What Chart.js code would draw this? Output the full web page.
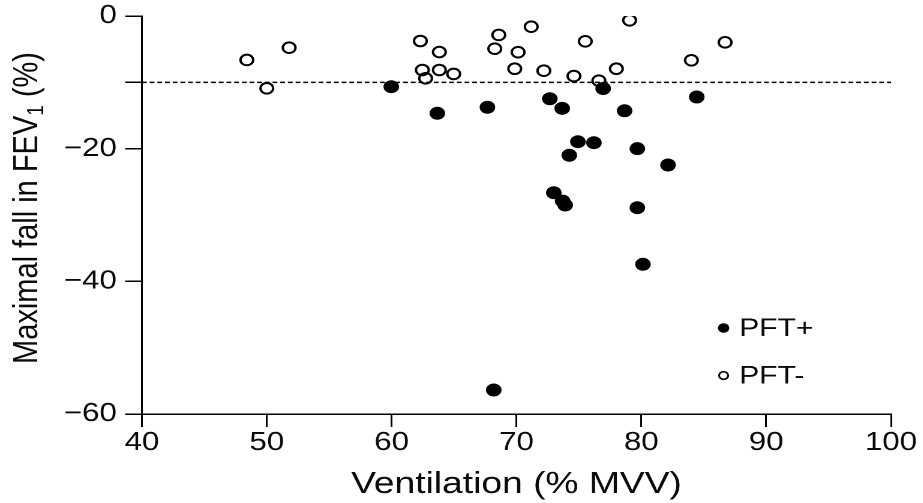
<!DOCTYPE html>
<html>
<head>
<meta charset="utf-8">
<script src="https://cdn.jsdelivr.net/npm/chart.js@4.4.1/dist/chart.umd.min.js"></script>
<style>
  html, body { margin: 0; padding: 0; background: #fff; overflow: hidden; }
  /* the reference picture is stretched sideways, so the whole chart is too */
  #wrap { width: 769px; height: 503px; transform: scaleX(1.2); transform-origin: 0 0; }
</style>
</head>
<body>
<div id="wrap"><canvas id="chart" width="769" height="503"></canvas></div>
<script>
const seriesNames = ["PFT+", "PFT-"];

// PFT+ (filled dots)
const pftPosX = [59.97, 63.66, 67.67, 72.67, 73.66, 76.94, 78.66, 84.44, 74.92, 76.2, 74.23, 79.68, 82.14, 72.99, 73.7, 73.9, 79.68, 80.13, 68.18];
const pftPosY = [-10.66, -14.67, -13.76, -12.47, -13.92, -10.93, -14.28, -12.21, -18.95, -19.1, -21.0, -20.0, -22.46, -26.64, -27.9, -28.5, -28.9, -37.43, -56.38];

// PFT- (open circles)
const pftNegX = [48.4, 51.79, 50.0, 62.3, 63.82, 62.46, 63.82, 62.72, 64.97, 68.58, 68.26, 70.13, 69.86, 71.18, 72.19, 74.6, 75.51, 76.6, 78.0, 79.06, 84.01, 86.71];
const pftNegY = [-6.63, -4.78, -10.9, -3.77, -5.43, -8.14, -8.14, -9.39, -8.74, -2.86, -4.93, -5.46, -7.95, -1.61, -8.25, -9.05, -3.81, -9.75, -7.95, -0.65, -6.68, -3.97];

const xTicks = [40, 50, 60, 70, 80, 90, 100];
const yTicks = [0, -10, -20, -40, -60];
const threshold = -10;

const xTitle = "Ventilation (% MVV)";
const yTitleParts = ["Maximal fall in FEV", "1", " (%)"];

const FONT = '"Liberation Sans", Arial, Helvetica, sans-serif';
const INK = "#0a0a0a";

const toPoints = (xs, ys) => xs.map((x, i) => ({ x: x, y: ys[i] }));

// y title with a subscript 1, drawn rotated
const yTitle = {
  id: "yTitle",
  afterDraw(chart) {
    const ctx = chart.ctx;
    const area = chart.chartArea;
    const big = "29px " + FONT;
    const small = "19px " + FONT;
    ctx.save();
    ctx.font = big;
    const w1 = ctx.measureText(yTitleParts[0]).width;
    const w3 = ctx.measureText(yTitleParts[2]).width;
    ctx.font = small;
    const w2 = ctx.measureText(yTitleParts[1]).width;
    const total = w1 + w2 + w3;
    ctx.translate(31, (area.top + area.bottom) / 2 - 7);
    ctx.rotate(-Math.PI / 2);
    ctx.fillStyle = INK;
    ctx.textBaseline = "alphabetic";
    ctx.textAlign = "left";
    let x = -total / 2;
    ctx.font = big;
    ctx.fillText(yTitleParts[0], x, 0);
    x += w1;
    ctx.font = small;
    ctx.fillText(yTitleParts[1], x, 5);
    x += w2;
    ctx.font = big;
    ctx.fillText(yTitleParts[2], x, 0);
    ctx.restore();
  },
};

// legend sitting inside the plot, lower right
const insideLegend = {
  id: "insideLegend",
  afterDraw(chart) {
    const ctx = chart.ctx;
    const area = chart.chartArea;
    const mx = area.right - 139.5;
    const rows = [area.top + 312, area.top + 359.5];
    ctx.save();
    ctx.font = "25px " + FONT;
    ctx.textBaseline = "middle";
    ctx.textAlign = "left";
    rows.forEach((y, i) => {
      ctx.beginPath();
      ctx.arc(mx, y, i === 0 ? 4.8 : 3.8, 0, Math.PI * 2);
      if (i === 0) {
        ctx.fillStyle = "#000";
        ctx.fill();
      } else {
        ctx.lineWidth = 1.6;
        ctx.strokeStyle = "#000";
        ctx.stroke();
      }
      ctx.fillStyle = INK;
      ctx.fillText(seriesNames[i], mx + 13, y + 1);
    });
    ctx.restore();
  },
};

const noLabelPadding = (scale) => {
  scale.paddingTop = 0;
  scale.paddingBottom = 0;
  scale.paddingLeft = 0;
  scale.paddingRight = 0;
};

const config = {
  type: "scatter",
  data: {
    datasets: [
      {
        type: "line",
        label: "threshold",
        data: [{ x: xTicks[0], y: threshold }, { x: xTicks[xTicks.length - 1], y: threshold }],
        borderColor: "#000",
        borderWidth: 1.5,
        borderDash: [4, 2.4],
        pointRadius: 0,
        fill: false,
        order: 0,
      },
      {
        label: seriesNames[0],
        data: toPoints(pftPosX, pftPosY),
        backgroundColor: "#000",
        borderColor: "#000",
        borderWidth: 1,
        pointRadius: 6,
        order: 1,
      },
      {
        label: seriesNames[1],
        data: toPoints(pftNegX, pftNegY),
        backgroundColor: "rgba(0,0,0,0)",
        borderColor: "#000",
        borderWidth: 2,
        pointRadius: 5.3,
        order: 2,
      },
    ],
  },
  options: {
    responsive: false,
    animation: false,
    devicePixelRatio: 2,
    layout: {
      padding: { top: 16, right: 26.5, bottom: 0, left: 0 },
    },
    plugins: {
      legend: { display: false },
      tooltip: { enabled: false },
    },
    scales: {
      x: {
        type: "linear",
        min: xTicks[0],
        max: xTicks[xTicks.length - 1],
        afterBuildTicks: (scale) => {
          scale.ticks = xTicks.map((v) => ({ value: v }));
        },
        afterFit: (scale) => {
          scale.height = 89;
          noLabelPadding(scale);
        },
        grid: {
          drawOnChartArea: false,
          drawTicks: true,
          tickLength: 13,
          color: "#000",
          lineWidth: 1.5,
        },
        border: { display: true, color: "#000", width: 1.5 },
        ticks: {
          color: INK,
          padding: 0,
          font: { size: 26, family: FONT },
          maxRotation: 0,
        },
        title: {
          display: true,
          text: xTitle,
          color: INK,
          padding: { top: 0, bottom: 0 },
          font: { size: 31, family: FONT, lineHeight: 1.2 },
        },
      },
      y: {
        type: "linear",
        min: yTicks[yTicks.length - 1],
        max: yTicks[0],
        afterBuildTicks: (scale) => {
          scale.ticks = yTicks.map((v) => ({ value: v }));
        },
        afterFit: (scale) => {
          scale.width = 118.3;
          noLabelPadding(scale);
        },
        grid: {
          drawOnChartArea: false,
          drawTicks: true,
          tickLength: 14,
          color: "#000",
          lineWidth: 1.5,
        },
        border: { display: true, color: "#000", width: 1.5 },
        ticks: {
          color: INK,
          padding: 7,
          font: { size: 26, family: FONT },
          callback: (v) => (v === threshold ? "" : v < 0 ? "\u2212" + Math.abs(v) : String(v)),
        },
      },
    },
  },
  plugins: [yTitle, insideLegend],
};

const chart = new Chart(document.getElementById("chart"), config);
</script>
</body>
</html>
